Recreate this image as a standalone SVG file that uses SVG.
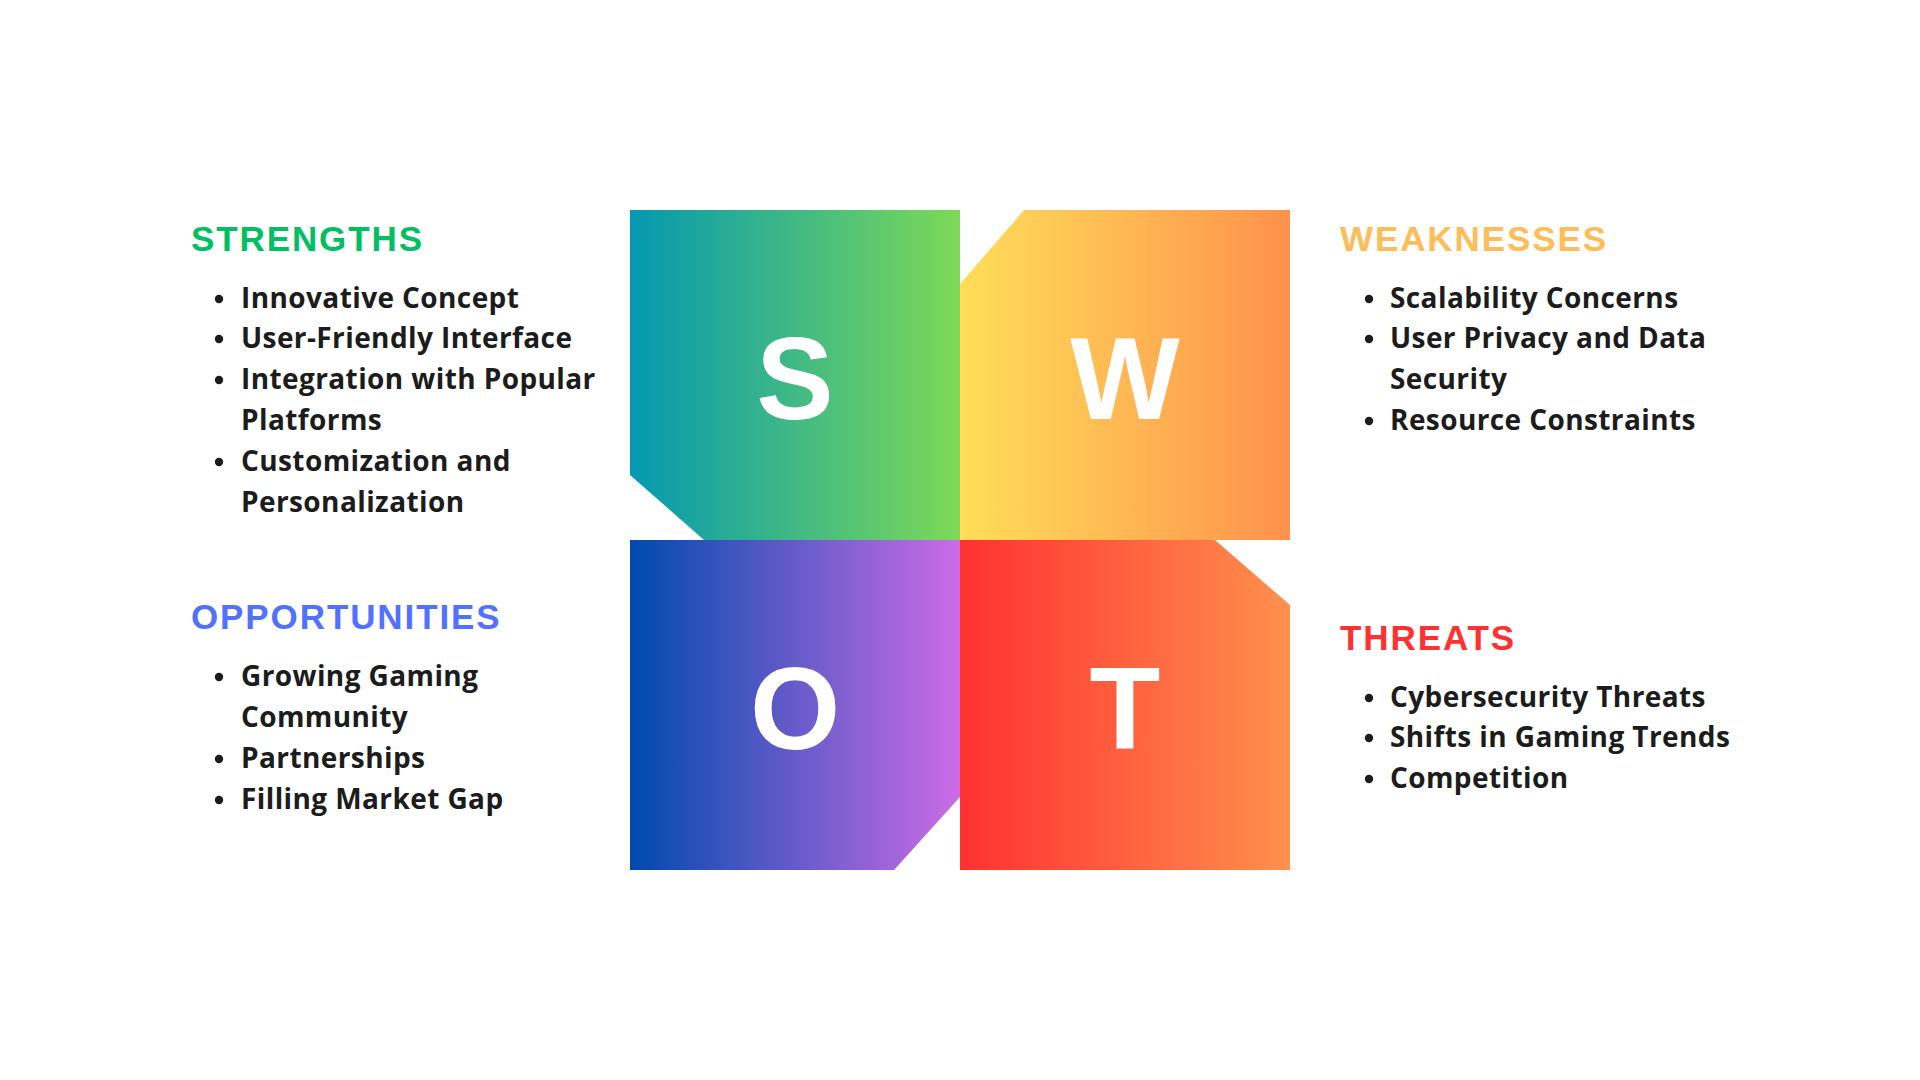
<svg xmlns="http://www.w3.org/2000/svg" width="1920" height="1080" viewBox="0 0 1920 1080">
<style>
.h{font-family:"Liberation Sans",Arial,sans-serif;font-weight:700;font-size:35px;letter-spacing:1.9px}
.b{font-family:"Open Sans","Liberation Sans",sans-serif;font-weight:700;font-size:28px;letter-spacing:0.4px;fill:#1c1c1c}
.bul{fill:#1c1c1c}
.L{font-family:"Liberation Sans",Arial,sans-serif;font-weight:700;font-size:116px;fill:#ffffff;text-anchor:middle}
</style>
<defs>
<linearGradient id="gS" x1="0" y1="0" x2="1" y2="0"><stop offset="0" stop-color="#0499b1"/><stop offset="1" stop-color="#7ed957"/></linearGradient>
<linearGradient id="gW" x1="0" y1="0" x2="1" y2="0"><stop offset="0" stop-color="#ffde59"/><stop offset="1" stop-color="#ff914d"/></linearGradient>
<linearGradient id="gO" x1="0" y1="0" x2="1" y2="0"><stop offset="0" stop-color="#004aad"/><stop offset="1" stop-color="#cb6ce6"/></linearGradient>
<linearGradient id="gT" x1="0" y1="0" x2="1" y2="0"><stop offset="0" stop-color="#ff3131"/><stop offset="1" stop-color="#ff914d"/></linearGradient>
</defs>
<rect width="1920" height="1080" fill="#ffffff"/>
<g id="node-S">
<polygon points="630,210 960,210 960,540 704,540 630,475" fill="url(#gS)"/>
<text class="L" x="795" y="419">S</text>
</g>
<g id="node-W">
<polygon points="1024,210 1290,210 1290,540 960,540 960,284" fill="url(#gW)"/>
<text class="L" x="1125" y="419">W</text>
</g>
<g id="node-O">
<polygon points="630,540 960,540 960,797 894,870 630,870" fill="url(#gO)"/>
<text class="L" x="795" y="749">O</text>
</g>
<g id="node-T">
<polygon points="960,540 1215,540 1290,605 1290,870 960,870" fill="url(#gT)"/>
<text class="L" x="1125" y="749">T</text>
</g>
<g id="connectors"></g>
<g id="strengths">
<text class="h" x="191" y="251" fill="#00bf63">STRENGTHS</text>
<circle class="bul" cx="219" cy="299" r="4.2"/>
<circle class="bul" cx="219" cy="339" r="4.2"/>
<circle class="bul" cx="219" cy="380" r="4.2"/>
<circle class="bul" cx="219" cy="462" r="4.2"/>
<text class="b" x="241" y="308">Innovative Concept</text>
<text class="b" x="241" y="348">User-Friendly Interface</text>
<text class="b" x="241" y="389">Integration with Popular</text>
<text class="b" x="241" y="430">Platforms</text>
<text class="b" x="241" y="471">Customization and</text>
<text class="b" x="241" y="512">Personalization</text>
</g>
<g id="opportunities">
<text class="h" x="191" y="629" fill="#5271ff">OPPORTUNITIES</text>
<circle class="bul" cx="219" cy="677" r="4.2"/>
<circle class="bul" cx="219" cy="759" r="4.2"/>
<circle class="bul" cx="219" cy="800" r="4.2"/>
<text class="b" x="241" y="686">Growing Gaming</text>
<text class="b" x="241" y="727">Community</text>
<text class="b" x="241" y="768">Partnerships</text>
<text class="b" x="241" y="809">Filling Market Gap</text>
</g>
<g id="weaknesses">
<text class="h" x="1340" y="251" fill="#ffbd59">WEAKNESSES</text>
<circle class="bul" cx="1369" cy="299" r="4.2"/>
<circle class="bul" cx="1369" cy="339" r="4.2"/>
<circle class="bul" cx="1369" cy="421" r="4.2"/>
<text class="b" x="1390" y="308">Scalability Concerns</text>
<text class="b" x="1390" y="348">User Privacy and Data</text>
<text class="b" x="1390" y="389">Security</text>
<text class="b" x="1390" y="430">Resource Constraints</text>
</g>
<g id="threats">
<text class="h" x="1340" y="650" fill="#ff3131">THREATS</text>
<circle class="bul" cx="1369" cy="698" r="4.2"/>
<circle class="bul" cx="1369" cy="738" r="4.2"/>
<circle class="bul" cx="1369" cy="779" r="4.2"/>
<text class="b" x="1390" y="707">Cybersecurity Threats</text>
<text class="b" x="1390" y="747">Shifts in Gaming Trends</text>
<text class="b" x="1390" y="788">Competition</text>
</g>
</svg>
